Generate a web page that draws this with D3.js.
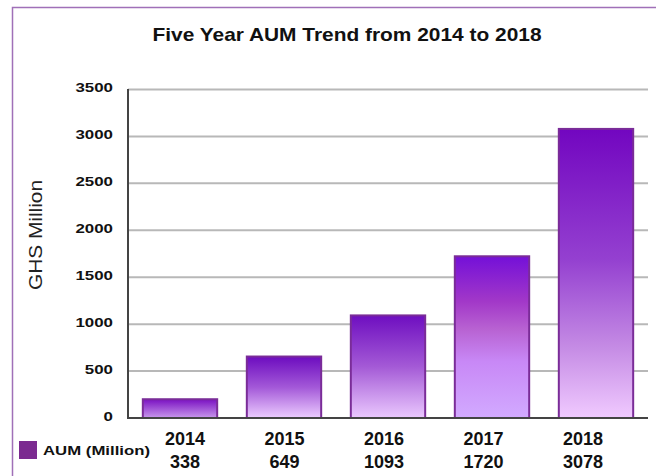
<!DOCTYPE html>
<html>
<head>
<meta charset="utf-8">
<script src="https://cdn.jsdelivr.net/npm/d3@7"></script>
<style>
html,body{margin:0;padding:0;background:#fff;}
svg{display:block;font-family:"Liberation Sans",Arial,sans-serif;}
</style>
</head>
<body>
<svg id="chart" width="656" height="476"></svg>
<script>
// ---- data ----
const years = ["2014", "2015", "2016", "2017", "2018"];
const barValues = [200, 655, 1093, 1723, 3080];      // bar heights as drawn
const tableValues = ["338", "649", "1093", "1720", "3078"]; // data-table labels
const yTicks = [0, 500, 1000, 1500, 2000, 2500, 3000, 3500];
const seriesName = "AUM (Million)";
const titleText = "Five Year AUM Trend from 2014 to 2018";
const yTitle = "GHS Million";

// gradient stops per bar (top -> bottom)
const gradients = [
  [["0%", "#7a10c2"], ["100%", "#c898ec"]],
  [["0%", "#6c0cbf"], ["50%", "#a358d8"], ["100%", "#ecccff"]],
  [["0%", "#6e0ec0"], ["50%", "#a45ad6"], ["100%", "#eac8fe"]],
  [["0%", "#7410d8"], ["28%", "#a238c8"], ["45%", "#b862d2"], ["65%", "#c888f6"], ["100%", "#d2aaff"]],
  [["0%", "#7206c0"], ["45%", "#9440d0"], ["75%", "#c48ae4"], ["100%", "#f0caff"]]
];

const svg = d3.select("#chart");

const x = d3.scaleBand().domain(years).range([128, 648]).paddingInner(0.285).paddingOuter(0.1425);
const y = d3.scaleLinear().domain([0, 3500]).range([418, 89.5]);
const tableX = d3.scalePoint().domain(years).range([185, 583]);

// defs
const defs = svg.append("defs");
gradients.forEach((stops, i) => {
  const g = defs.append("linearGradient").attr("id", "g" + i)
    .attr("x1", "0").attr("y1", "0").attr("x2", "0").attr("y2", "1");
  stops.forEach(s => g.append("stop").attr("offset", s[0]).attr("stop-color", s[1]));
});

// frame
svg.append("path").attr("d", "M12.5,476 L12.5,7.5 L656,7.5")
  .attr("fill", "none").attr("stroke", "#a070b8").attr("stroke-width", 1.5);

// title
svg.append("text").attr("x", 347).attr("y", 41).attr("text-anchor", "middle")
  .attr("font-size", 19).attr("font-weight", "bold").attr("fill", "#111")
  .attr("textLength", 389).attr("lengthAdjust", "spacingAndGlyphs")
  .text(titleText);

// gridlines
svg.append("g").selectAll("line").data(yTicks.filter(d => d > 0)).join("line")
  .attr("x1", 128).attr("x2", 648).attr("y1", d => y(d)).attr("y2", d => y(d))
  .attr("stroke", "#b8b8b8").attr("stroke-width", 2);

// y tick labels
const tl = svg.append("g").selectAll("text").data(yTicks).join("text")
  .attr("x", 113).attr("y", d => y(d) + 2.5)
  .attr("text-anchor", "end").attr("font-size", 13.5).attr("font-weight", "bold").attr("fill", "#111")
  .text(d => d);
tl.each(function() {
  const w = this.getComputedTextLength();
  d3.select(this).attr("textLength", w * 1.25).attr("lengthAdjust", "spacingAndGlyphs");
});

// y title
svg.append("text").attr("transform", "translate(42,235) rotate(-90)")
  .attr("text-anchor", "middle").attr("font-size", 19).attr("fill", "#222")
  .attr("textLength", 110).attr("lengthAdjust", "spacingAndGlyphs")
  .text(yTitle);

// bars
svg.append("g").selectAll("rect").data(barValues).join("rect")
  .attr("x", (d, i) => x(years[i]))
  .attr("y", d => y(d))
  .attr("width", x.bandwidth())
  .attr("height", d => y(0) - y(d))
  .attr("fill", (d, i) => "url(#g" + i + ")")
  .attr("stroke", "#7a2c98").attr("stroke-width", 2);

// axes
svg.append("line").attr("x1", 128).attr("x2", 128).attr("y1", 89).attr("y2", 419)
  .attr("stroke", "#444").attr("stroke-width", 2);
svg.append("line").attr("x1", 127).attr("x2", 648).attr("y1", 418).attr("y2", 418)
  .attr("stroke", "#444").attr("stroke-width", 2);

// data table
const tbl = svg.append("g");
tbl.selectAll("text.yr").data(years).join("text").attr("class", "yr")
  .attr("x", d => tableX(d)).attr("y", 445).attr("text-anchor", "middle")
  .attr("font-size", 18).attr("font-weight", "bold").attr("fill", "#111").text(d => d);
tbl.selectAll("text.val").data(tableValues).join("text").attr("class", "val")
  .attr("x", (d, i) => tableX(years[i])).attr("y", 468).attr("text-anchor", "middle")
  .attr("font-size", 18).attr("font-weight", "bold").attr("fill", "#111").text(d => d);

// legend
svg.append("rect").attr("x", 19).attr("y", 441).attr("width", 18).attr("height", 18).attr("fill", "#7b2a90");
svg.append("text").attr("x", 43).attr("y", 455).attr("font-size", 13.5).attr("font-weight", "bold")
  .attr("fill", "#111").attr("textLength", 107).attr("lengthAdjust", "spacingAndGlyphs").text(seriesName);
</script>
</body>
</html>
